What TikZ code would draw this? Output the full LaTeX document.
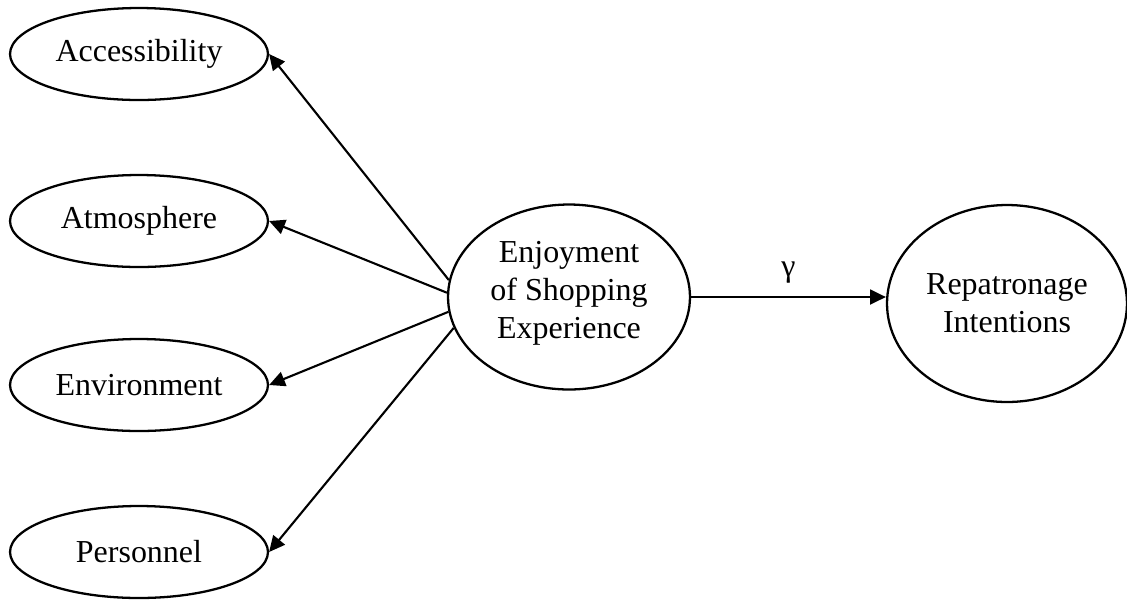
\documentclass[tikz,border=0pt]{standalone}
\usepackage{fontspec}
\setmainfont{Liberation Serif}
\usetikzlibrary{arrows.meta,shapes.geometric}

\begin{document}
\begin{tikzpicture}[x=0.02cm, y=-0.02cm,
	comp/.style={ellipse, draw=black, line width=1.3pt, inner sep=0pt, align=center, font=\fontsize{18.2}{21.5}\selectfont},
	link/.style={line width=1.2pt, -{Triangle[length=9pt, width=8.5pt]}}]
					\useasboundingbox (0,0) rectangle (1127,600);
					\node[comp, minimum width=5.16cm, minimum height=1.84cm] (n1) at (139,54) {Accessibility};
					\node[comp, minimum width=5.16cm, minimum height=1.84cm] (n2) at (139,221) {Atmosphere};
					\node[comp, minimum width=5.16cm, minimum height=1.84cm] (n3) at (139,385) {Environment};
					\node[comp, minimum width=5.16cm, minimum height=1.84cm] (n4) at (139,552) {Personnel};

					\node[comp, minimum width=4.84cm, minimum height=3.7cm, text depth=8pt] (n5) at (569,297) {Enjoyment\\of Shopping\\Experience};
					\node[comp, minimum width=4.8cm, minimum height=3.94cm] (n6) at (1007,303.5) {Repatronage\\Intentions};

					\draw[link] (n5.172) -- (n1.east);
					\draw[link] (n5.178.5) -- (n2.east);
					\draw[link] (n5.187) -- (n3.east);
					\draw[link] (n5.195) -- (n4.east);
					\draw[link] (n5.east) -- (n5.east -| n6.west) node[midway, above, yshift=4pt, font=\fontsize{18.2}{21.5}\selectfont] (n5g) {γ};
				\end{tikzpicture}
\end{document}
